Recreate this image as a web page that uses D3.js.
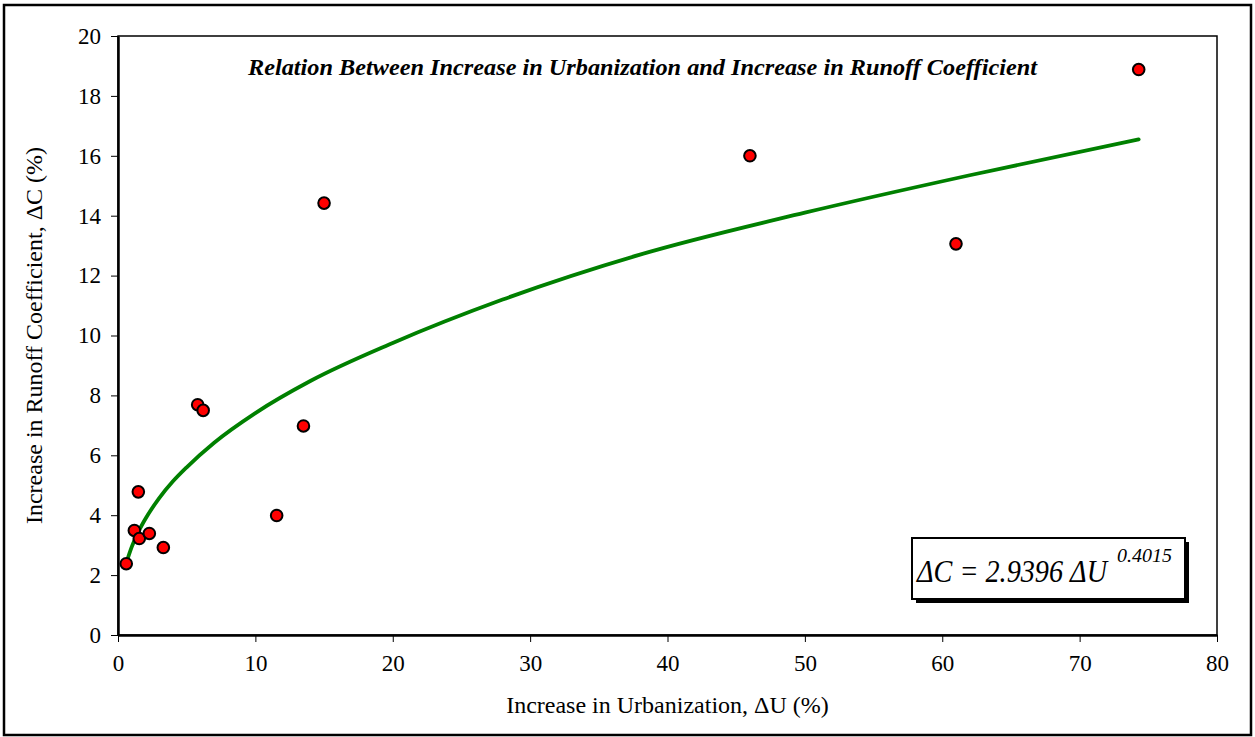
<!DOCTYPE html>
<html>
<head>
<meta charset="utf-8">
<title>Urbanization vs Runoff Coefficient</title>
<script src="https://d3js.org/d3.v7.min.js"></script>
<style>
body { margin: 0; background: white; }
text { font-family: "Liberation Serif", "Times New Roman", serif; fill: black; }
.tick line { stroke: black; stroke-width: 1px; }
.tick text { font-size: 23px; }
</style>
</head>
<body>
<svg width="1255" height="737"></svg>
<script>
var urbanIncrease  = [0.6, 1.19, 1.48, 1.55, 2.28, 3.3, 5.8, 6.2, 11.55, 13.5, 15.0, 46.0, 61.0, 74.3];
var runoffIncrease = [2.38, 3.49, 4.78, 3.22, 3.39, 2.92, 7.69, 7.5, 3.99, 6.98, 14.42, 16.0, 13.06, 18.88];

// power trend line
var trendU = [0.6, 1, 1.5, 2, 3, 4, 5, 7, 10, 14, 20, 28, 38, 50, 62, 74.3];
var trendC = [2.4, 2.94, 3.46, 3.88, 4.57, 5.13, 5.6, 6.42, 7.41, 8.48, 9.75, 11.2, 12.7, 14.1, 15.35, 16.55];

var xTicks = [0, 10, 20, 30, 40, 50, 60, 70, 80];
var yTicks = [0, 2, 4, 6, 8, 10, 12, 14, 16, 18, 20];

var titleText = "Relation Between Increase in Urbanization and Increase in Runoff Coefficient";
var eqMain = "\u0394C = 2.9396 \u0394U";
var eqExp = "0.4015";

var svg = d3.select("svg");
var plotLeft = 118, plotTop = 36, plotRight = 1217, plotBottom = 635;

var x = d3.scaleLinear().domain([0, 80]).range([plotLeft, plotRight]);
var y = d3.scaleLinear().domain([0, 20]).range([plotBottom, plotTop]);

//outer frame
svg.append("rect")
  .attr("x", 4).attr("y", 5)
  .attr("width", 1247).attr("height", 730)
  .attr("fill", "white")
  .attr("stroke", "black")
  .attr("stroke-width", 2.5);

//plot area box
svg.append("rect")
  .attr("x", plotLeft).attr("y", plotTop)
  .attr("width", plotRight - plotLeft).attr("height", plotBottom - plotTop)
  .attr("fill", "white")
  .attr("stroke", "black")
  .attr("stroke-width", 1.5);

//axes
var xAxis = svg.append("g")
  .attr("transform", "translate(0," + plotBottom + ")")
  .call(d3.axisBottom(x).tickValues(xTicks).tickSize(7).tickSizeOuter(0).tickPadding(13));
xAxis.select(".domain").attr("stroke", "black").attr("stroke-width", 2.5);

var yAxis = svg.append("g")
  .attr("transform", "translate(" + plotLeft + ",0)")
  .call(d3.axisLeft(y).tickValues(yTicks).tickSize(7).tickSizeOuter(0).tickPadding(10));
yAxis.select(".domain").attr("stroke", "black").attr("stroke-width", 2.5);

svg.selectAll(".tick text")
  .attr("font-family", null)
  .attr("font-size", null)
  .attr("fill", "black");

//axis titles
svg.append("text")
  .attr("x", (plotLeft + plotRight) / 2)
  .attr("y", 713)
  .attr("text-anchor", "middle")
  .style("font-size", "24px")
  .text("Increase in Urbanization, \u0394U (%)");

svg.append("text")
  .attr("transform", "translate(42," + (plotTop + plotBottom) / 2 + ") rotate(-90)")
  .attr("text-anchor", "middle")
  .style("font-size", "24px")
  .text("Increase in Runoff Coefficient, \u0394C (%)");

//chart title
svg.append("text")
  .attr("x", 248)
  .attr("y", 75)
  .attr("textLength", 789)
  .attr("lengthAdjust", "spacingAndGlyphs")
  .style("font-size", "24px")
  .style("font-weight", "bold")
  .style("font-style", "italic")
  .text(titleText);

//trend line
var line = d3.line()
  .x(function(d){ return x(d[0]); })
  .y(function(d){ return y(d[1]); })
  .curve(d3.curveMonotoneX);

svg.append("path")
  .datum(d3.zip(trendU, trendC))
  .attr("d", line)
  .attr("fill", "none")
  .attr("stroke", "#008000")
  .attr("stroke-width", 3.8)
  .attr("stroke-linecap", "round");

//points
svg.selectAll("circle.pt")
  .data(d3.zip(urbanIncrease, runoffIncrease))
  .enter().append("circle")
  .attr("class", "pt")
  .attr("cx", function(d){ return x(d[0]); })
  .attr("cy", function(d){ return y(d[1]); })
  .attr("r", 5.8)
  .attr("fill", "#ff0000")
  .attr("stroke", "black")
  .attr("stroke-width", 2);

//equation box with shadow
svg.append("rect")
  .attr("x", 916).attr("y", 542)
  .attr("width", 273).attr("height", 61)
  .attr("fill", "black");

svg.append("rect")
  .attr("x", 912).attr("y", 538)
  .attr("width", 273).attr("height", 61)
  .attr("fill", "white")
  .attr("stroke", "black")
  .attr("stroke-width", 2);

var eq = svg.append("text")
  .attr("x", 917)
  .attr("y", 582)
  .style("font-style", "italic");

eq.append("tspan")
  .attr("textLength", 190)
  .attr("lengthAdjust", "spacingAndGlyphs")
  .style("font-size", "32px")
  .text(eqMain);

eq.append("tspan")
  .attr("x", 1117)
  .attr("dy", -20)
  .attr("textLength", 55)
  .attr("lengthAdjust", "spacingAndGlyphs")
  .style("font-size", "19px")
  .text(eqExp);
</script>
</body>
</html>
